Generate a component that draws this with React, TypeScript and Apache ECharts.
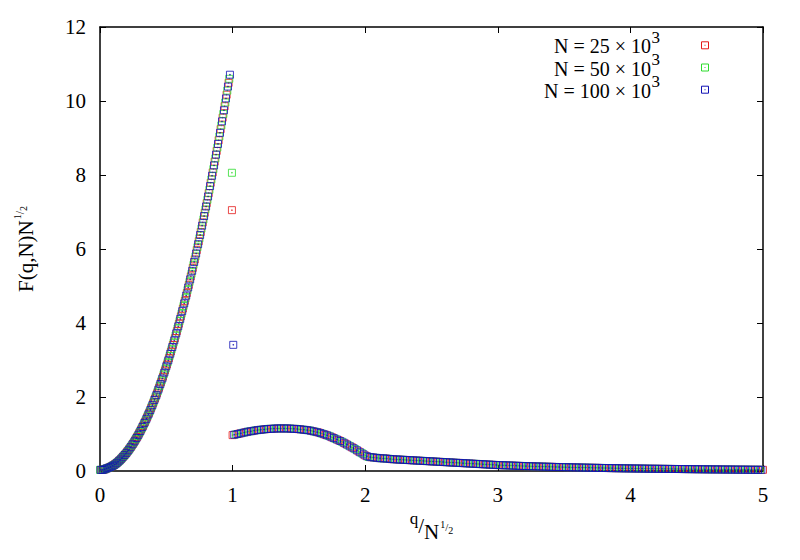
import React, { useEffect, useRef } from "react";
import * as echarts from "echarts";

// ---- data ----
const SERIES_NAMES = ["N = 25 × 10^3", "N = 50 × 10^3", "N = 100 × 10^3"];
const LEGEND_MAIN = ["N = 25 × 10", "N = 50 × 10", "N = 100 × 10"];
const LEGEND_EXP = ["3", "3", "3"];

// rising branch, q/N^1/2 = 0.000 .. 0.980 (grid step 0.005)
const RISE_X0 = 0;
const RISE_DX = 0.005;
const RISE_Y = [
  0.03, 0.03, 0.03, 0.03, 0.03, 0.035, 0.04, 0.045, 0.05, 0.06,
  0.07, 0.075, 0.08, 0.087, 0.095, 0.1, 0.11, 0.12, 0.13, 0.14,
  0.15, 0.16, 0.17, 0.19, 0.2, 0.21, 0.23, 0.24, 0.26, 0.28,
  0.29, 0.31, 0.33, 0.35, 0.37, 0.39, 0.41, 0.43, 0.45, 0.47,
  0.49, 0.52, 0.54, 0.56, 0.59, 0.61, 0.64, 0.66, 0.69, 0.72,
  0.74, 0.77, 0.8, 0.83, 0.86, 0.89, 0.92, 0.95, 0.98, 1.02,
  1.05, 1.08, 1.12, 1.15, 1.19, 1.22, 1.26, 1.3, 1.33, 1.37,
  1.41, 1.45, 1.49, 1.53, 1.57, 1.61, 1.65, 1.7, 1.74, 1.78,
  1.83, 1.87, 1.92, 1.96, 2.01, 2.05, 2.1, 2.15, 2.2, 2.25,
  2.3, 2.35, 2.4, 2.45, 2.5, 2.55, 2.61, 2.66, 2.72, 2.77,
  2.83, 2.88, 2.94, 2.99, 3.05, 3.11, 3.17, 3.23, 3.29, 3.35,
  3.41, 3.47, 3.53, 3.59, 3.66, 3.72, 3.78, 3.85, 3.91, 3.98,
  4.05, 4.11, 4.18, 4.25, 4.32, 4.39, 4.46, 4.53, 4.6, 4.67,
  4.74, 4.81, 4.89, 4.96, 5.03, 5.11, 5.18, 5.26, 5.33, 5.41,
  5.49, 5.57, 5.65, 5.72, 5.8, 5.88, 5.97, 6.05, 6.13, 6.21,
  6.29, 6.38, 6.46, 6.55, 6.63, 6.72, 6.8, 6.89, 6.98, 7.07,
  7.15, 7.24, 7.33, 7.42, 7.51, 7.6, 7.7, 7.79, 7.88, 7.98,
  8.07, 8.16, 8.26, 8.36, 8.45, 8.55, 8.65, 8.74, 8.84, 8.94,
  9.04, 9.14, 9.24, 9.34, 9.45, 9.55, 9.65, 9.75, 9.86, 9.96,
  10.07, 10.17, 10.28, 10.39, 10.49, 10.6, 10.71,
];

// isolated points at the jump (red, green, blue)
const JUMP_X = [0.995, 0.995, 1.005];
const JUMP_Y = [7.05, 8.06, 3.41];

// hump, q/N^1/2 = 1.0000 .. 2.1875 (grid step 0.0125)
const BAND_DX = 0.0125;
const HUMP_X0 = 1.0;
const HUMP_Y = [
  0.97, 0.98, 0.99, 1.0, 1.01, 1.02, 1.03, 1.04,
  1.05, 1.06, 1.07, 1.075, 1.08, 1.09, 1.1, 1.105,
  1.11, 1.115, 1.12, 1.125, 1.13, 1.135, 1.14, 1.14,
  1.14, 1.145, 1.15, 1.15, 1.15, 1.15, 1.15, 1.15,
  1.15, 1.15, 1.15, 1.145, 1.14, 1.14, 1.14, 1.135,
  1.13, 1.125, 1.12, 1.115, 1.11, 1.105, 1.1, 1.09,
  1.08, 1.07, 1.06, 1.05, 1.04, 1.025, 1.01, 0.995,
  0.98, 0.965, 0.95, 0.93, 0.91, 0.89, 0.87, 0.85,
  0.83, 0.81, 0.79, 0.765, 0.74, 0.715, 0.69, 0.665,
  0.64, 0.615, 0.59, 0.56, 0.53, 0.505, 0.48, 0.45,
  0.42, 0.4, 0.38, 0.375, 0.37, 0.365, 0.36, 0.355,
  0.35, 0.345, 0.34, 0.34, 0.34, 0.335, 0.33, 0.325,
];
// tail, q/N^1/2 = 2.2000 .. 5.0000 (grid step 0.0125)
const TAIL_X0 = 2.2;
const TAIL_Y = [
  0.32, 0.3175, 0.315, 0.3125, 0.31, 0.3075, 0.305, 0.3025,
  0.3, 0.2975, 0.295, 0.2925, 0.29, 0.2875, 0.285, 0.2825,
  0.28, 0.2775, 0.275, 0.2725, 0.27, 0.2675, 0.265, 0.2625,
  0.26, 0.2575, 0.255, 0.2525, 0.25, 0.2475, 0.245, 0.2425,
  0.24, 0.2375, 0.235, 0.2325, 0.23, 0.2275, 0.225, 0.2225,
  0.22, 0.2175, 0.215, 0.2125, 0.21, 0.2075, 0.205, 0.2025,
  0.2, 0.1975, 0.195, 0.1925, 0.19, 0.1875, 0.185, 0.1825,
  0.18, 0.1775, 0.175, 0.1725, 0.17, 0.1675, 0.165, 0.1625,
  0.16, 0.1585, 0.157, 0.1555, 0.154, 0.1525, 0.151, 0.1495,
  0.148, 0.146, 0.144, 0.142, 0.14, 0.1385, 0.137, 0.1355,
  0.134, 0.1325, 0.131, 0.1295, 0.128, 0.1265, 0.125, 0.124,
  0.123, 0.1215, 0.12, 0.119, 0.118, 0.1165, 0.115, 0.114,
  0.113, 0.1115, 0.11, 0.109, 0.108, 0.107, 0.106, 0.105,
  0.104, 0.103, 0.102, 0.101, 0.1, 0.099, 0.098, 0.097,
  0.096, 0.095, 0.094, 0.093, 0.092, 0.091, 0.09, 0.089,
  0.088, 0.087, 0.086, 0.0855, 0.085, 0.084, 0.083, 0.082,
  0.081, 0.0805, 0.08, 0.079, 0.078, 0.0775, 0.077, 0.076,
  0.075, 0.0745, 0.074, 0.073, 0.072, 0.0715, 0.071, 0.0705,
  0.07, 0.069, 0.068, 0.0675, 0.067, 0.0665, 0.066, 0.0655,
  0.065, 0.064, 0.063, 0.0625, 0.062, 0.0615, 0.061, 0.0605,
  0.06, 0.0595, 0.059, 0.0585, 0.058, 0.0575, 0.057, 0.0565,
  0.056, 0.0555, 0.055, 0.0545, 0.054, 0.0535, 0.053, 0.0525,
  0.052, 0.0515, 0.051, 0.0505, 0.05, 0.0495, 0.049, 0.0485,
  0.048, 0.0475, 0.047, 0.0465, 0.046, 0.0455, 0.045, 0.0445,
  0.044, 0.0435, 0.043, 0.043, 0.043, 0.0425, 0.042, 0.0415,
  0.041, 0.0405, 0.04, 0.04, 0.04, 0.0395, 0.039, 0.0385,
  0.038, 0.0375, 0.037, 0.037, 0.037, 0.0365, 0.036, 0.0355,
  0.035, 0.0345, 0.034, 0.034, 0.034, 0.0335, 0.033, 0.0325,
  0.032,
];

const X_MIN = 0, X_MAX = 5, X_STEP = 1;
const Y_MIN = 0, Y_MAX = 12, Y_STEP = 2;

// ---- styling ----
const COLORS = ["#e41a1a", "#2ddc2d", "#1010b4"];
// which samples of the shared grids each series (red, green, blue) shows
const RISE_PATTERN = [2, 1, 0]; // (last index - i) % 3 -> series
const BAND_PATTERN = [0, 2, 1, 2]; // i % 4 -> series (the largest N has the densest grid)
const FONT = "Liberation Serif, Times New Roman, serif";
const SYMBOL = "path://M0,0L8,0L8,8L0,8Z M3.6,3.6L4.4,3.6L4.4,4.4L3.6,4.4Z";

function gx(x0: number, dx: number, i: number) {
  return Number((x0 + i * dx).toFixed(4));
}

function buildSeriesData(k: number): number[][] {
  const pts: number[][] = [];
  const n = RISE_Y.length;
  RISE_Y.forEach((y, i) => {
    if (RISE_PATTERN[(n - 1 - i) % 3] === k) pts.push([gx(RISE_X0, RISE_DX, i), y]);
  });
  pts.push([JUMP_X[k], JUMP_Y[k]]);
  HUMP_Y.forEach((y, i) => {
    if (BAND_PATTERN[i % 4] === k) pts.push([gx(HUMP_X0, BAND_DX, i), y]);
  });
  const off = HUMP_Y.length;
  TAIL_Y.forEach((y, i) => {
    if (BAND_PATTERN[(i + off) % 4] === k) pts.push([gx(TAIL_X0, BAND_DX, i), y]);
  });
  return pts;
}

export default function App() {
  const ref = useRef<HTMLDivElement>(null);

  useEffect(() => {
    if (!ref.current) return;
    const chart = echarts.init(ref.current, null, { renderer: "svg" });

    const axisCommon = {
      axisLine: { show: true, onZero: false, lineStyle: { color: "#000", width: 1.5 } },
      axisTick: { show: true, inside: true, length: 6, lineStyle: { color: "#000", width: 1 } },
      splitLine: { show: false },
    };

    const legendGraphics: any[] = [];
    const rowCenters = [46.3, 68.5, 90.7];
    const supW = 8.5;
    const textRight = 660;
    LEGEND_MAIN.forEach((t, k) => {
      const cy = rowCenters[k];
      legendGraphics.push({
        type: "text",
        x: textRight - supW - 0.5,
        y: cy,
        style: {
          text: t,
          fontSize: 20,
          lineHeight: 20,
          fontFamily: FONT,
          fill: "#000",
          align: "right",
          verticalAlign: "middle",
        },
      });
      legendGraphics.push({
        type: "text",
        x: textRight - supW,
        y: cy - 9,
        style: {
          text: LEGEND_EXP[k],
          fontSize: 17,
          lineHeight: 16,
          fontFamily: FONT,
          fill: "#000",
          align: "left",
          verticalAlign: "middle",
        },
      });
      const my = cy - 1;
      legendGraphics.push({
        type: "rect",
        shape: { x: 701.5, y: my - 3.5, width: 7, height: 7 },
        style: { fill: "none", stroke: COLORS[k], lineWidth: 1 },
      });
      legendGraphics.push({
        type: "rect",
        shape: { x: 704.5, y: my - 0.5, width: 1, height: 1 },
        style: { fill: COLORS[k] },
      });
    });

    chart.setOption({
      animation: false,
      backgroundColor: "#fff",
      grid: { left: 100, right: 37, top: 27, bottom: 89, containLabel: false },
      xAxis: [
        {
          type: "value",
          min: X_MIN,
          max: X_MAX,
          interval: X_STEP,
          position: "bottom",
          ...axisCommon,
          axisLabel: { show: true, color: "#000", fontSize: 21, fontFamily: FONT, margin: 13 },
          name: "{q|q}{sl|/}{n|N}{a|1}{d|/}{c|2}",
          nameLocation: "middle",
          nameGap: 38,
          nameTextStyle: {
            color: "#000",
            fontFamily: FONT,
            rich: {
              q: { fontSize: 17, fontFamily: FONT, verticalAlign: "top", padding: [0, 0, 0, 0] },
              sl: { fontSize: 21, fontFamily: FONT, verticalAlign: "top", padding: [6, 0, 0, 0] },
              n: { fontSize: 21, fontFamily: FONT, verticalAlign: "top", padding: [12, 0, 0, 0] },
              a: { fontSize: 10, fontFamily: FONT, verticalAlign: "top", padding: [10, 0, 0, 1] },
              d: { fontSize: 11, fontFamily: FONT, verticalAlign: "top", padding: [12, 0, 0, 0] },
              c: { fontSize: 10, fontFamily: FONT, verticalAlign: "top", padding: [16, 0, 0, 0] },
            },
          },
        },
        {
          type: "value",
          min: X_MIN,
          max: X_MAX,
          interval: X_STEP,
          position: "top",
          ...axisCommon,
          axisLabel: { show: false },
        },
      ],
      yAxis: [
        {
          type: "value",
          min: Y_MIN,
          max: Y_MAX,
          interval: Y_STEP,
          position: "left",
          ...axisCommon,
          axisLabel: { show: true, color: "#000", fontSize: 21, fontFamily: FONT, margin: 14 },
          name: "{b|F(q,N)N}{a|1}{d|/}{c|2}",
          nameLocation: "middle",
          nameRotate: 90,
          nameGap: 64,
          nameTextStyle: {
            color: "#000",
            fontFamily: FONT,
            rich: {
              b: { fontSize: 21, fontFamily: FONT, verticalAlign: "top", padding: [9, 0, 0, 0] },
              a: { fontSize: 10, fontFamily: FONT, verticalAlign: "top", padding: [6, 0, 0, 1] },
              d: { fontSize: 12, fontFamily: FONT, verticalAlign: "top", padding: [8, 0, 0, 0] },
              c: { fontSize: 10, fontFamily: FONT, verticalAlign: "top", padding: [12, 0, 0, 0] },
            },
          },
        },
        {
          type: "value",
          min: Y_MIN,
          max: Y_MAX,
          interval: Y_STEP,
          position: "right",
          ...axisCommon,
          axisLabel: { show: false },
        },
      ],
      series: SERIES_NAMES.map((name, k) => ({
        name,
        type: "scatter",
        xAxisIndex: 0,
        yAxisIndex: 0,
        symbol: SYMBOL,
        symbolSize: 7,
        itemStyle: { color: "rgba(0,0,0,0)", borderColor: COLORS[k], borderWidth: 1 },
        emphasis: { disabled: true },
        data: buildSeriesData(k),
        z: 2 + k,
      })),
      graphic: legendGraphics,
    });

    return () => chart.dispose();
  }, []);

  return <div ref={ref} style={{ width: 800, height: 560, position: "absolute", left: 0, top: 0 }} />;
}
